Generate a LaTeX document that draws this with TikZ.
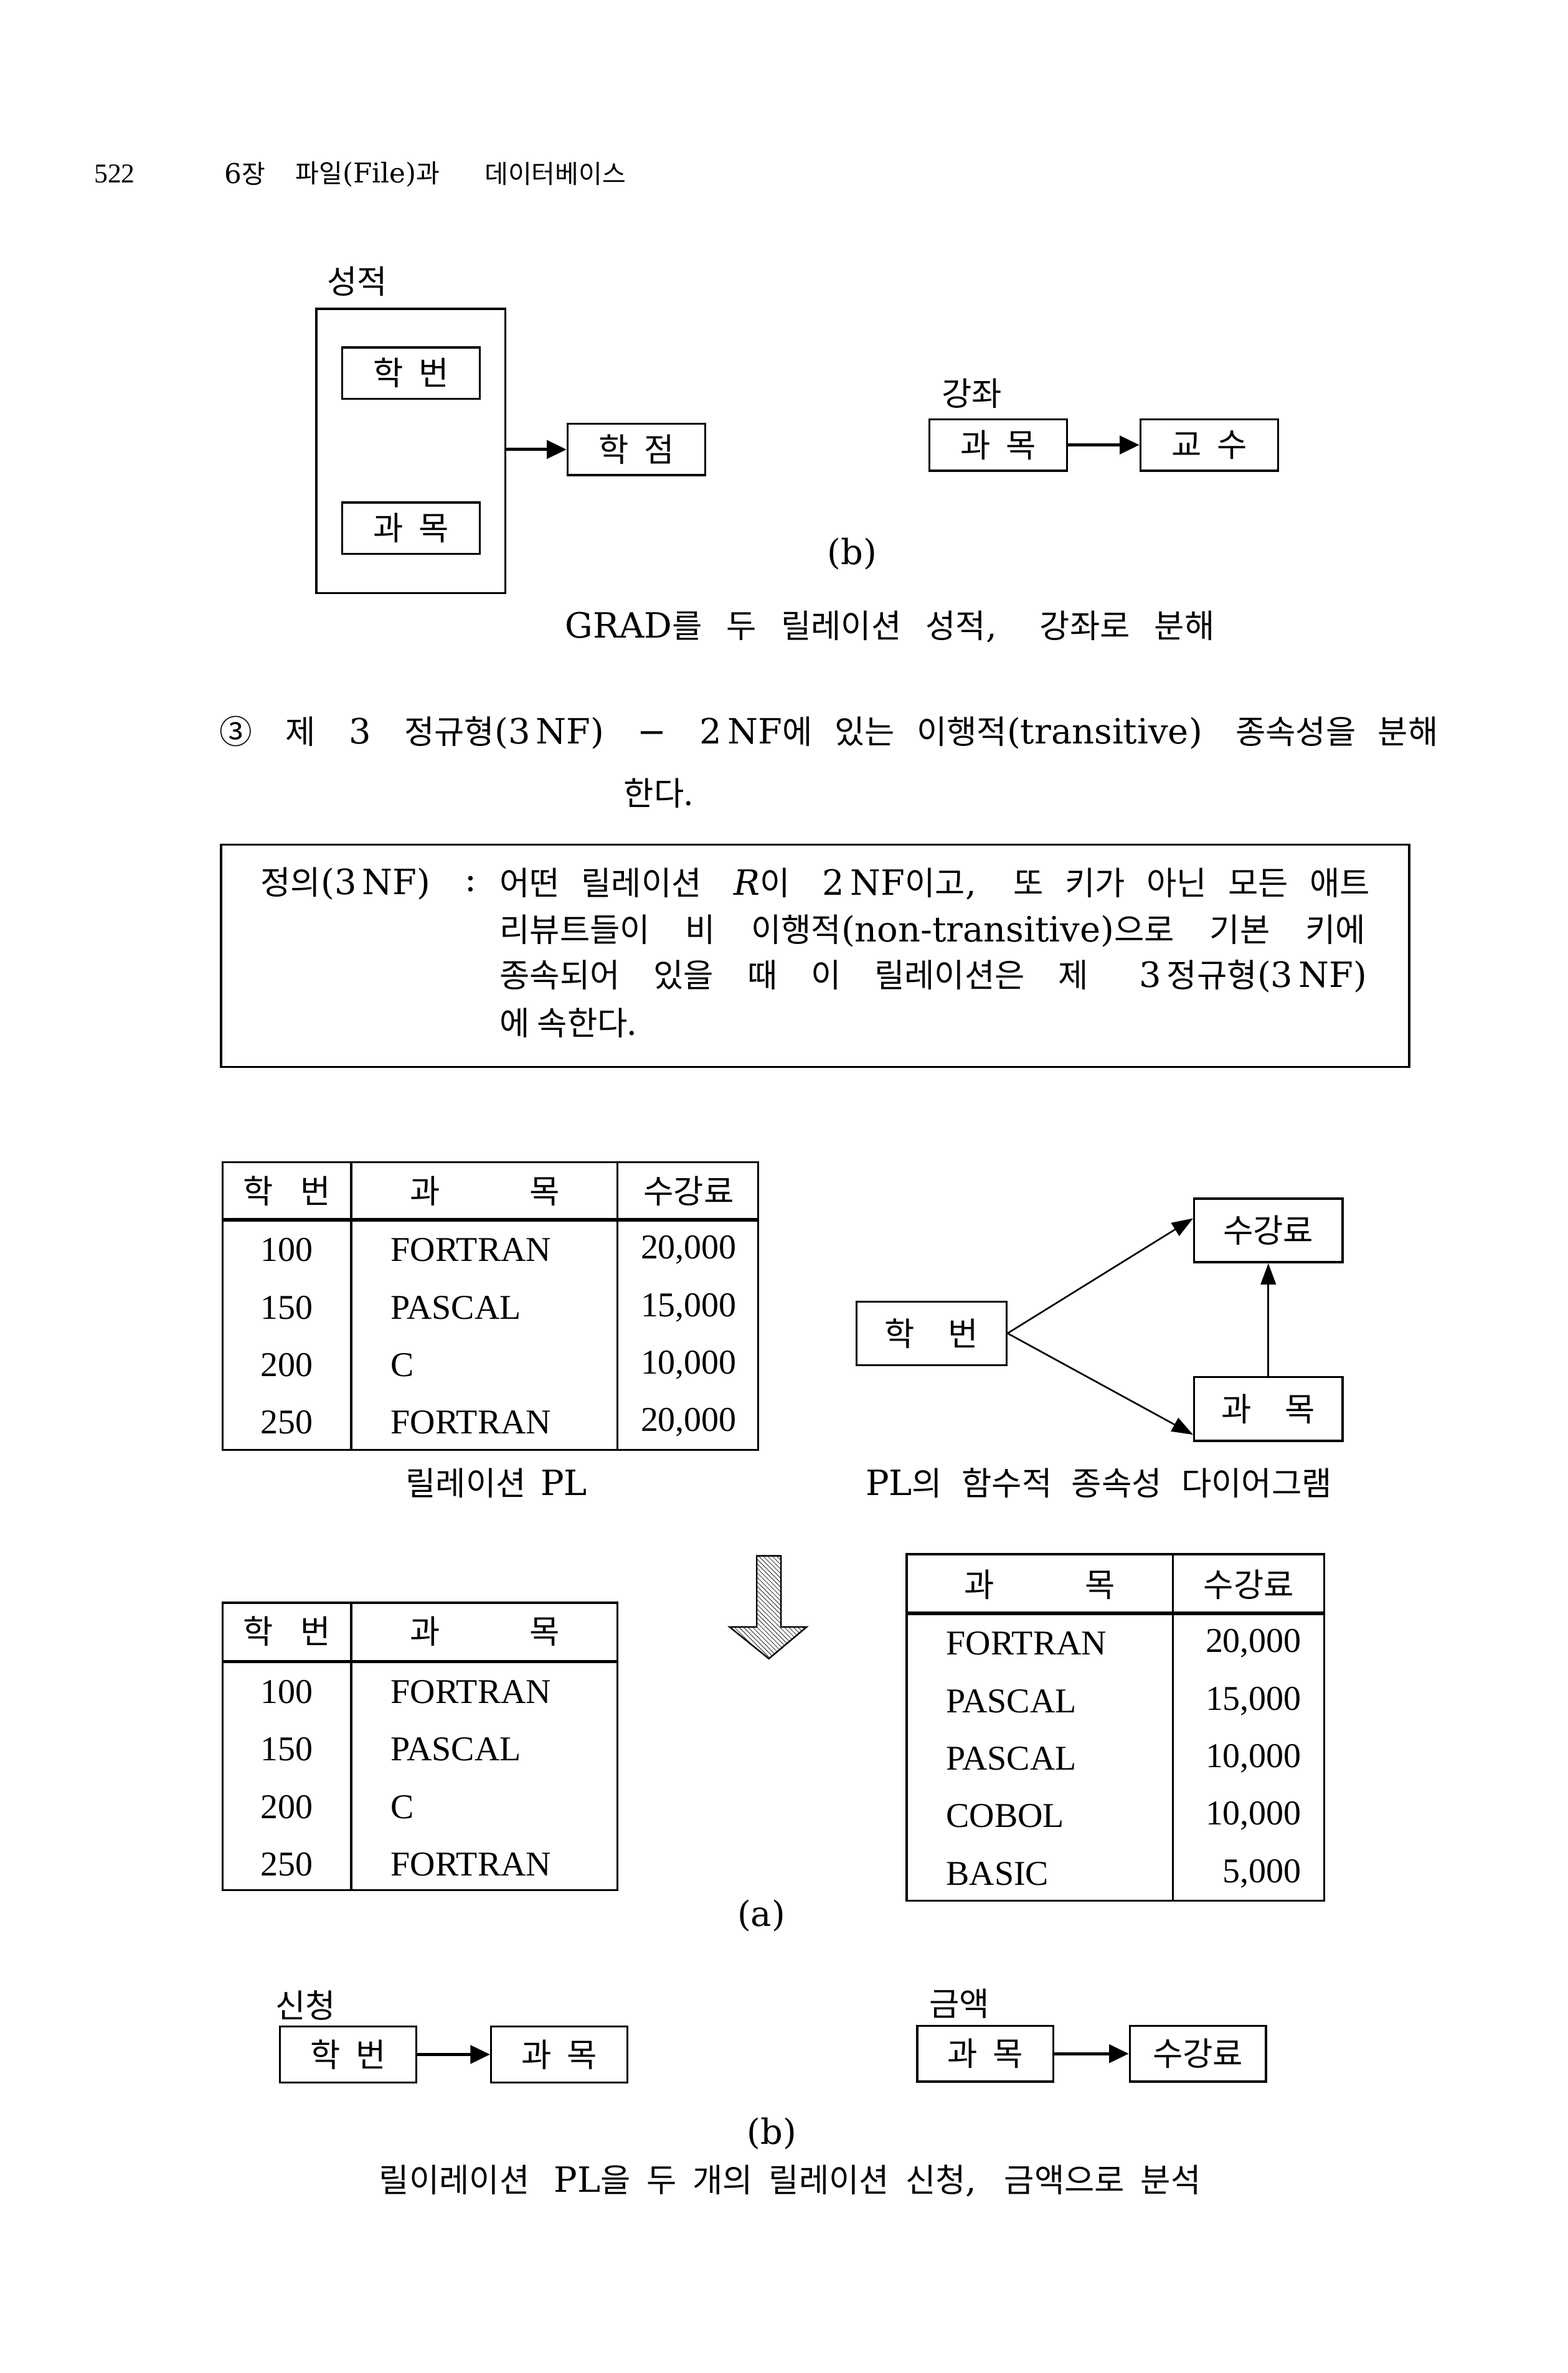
\documentclass[tikz,border=0pt]{standalone}
\usepackage{fontspec}
\setmainfont{DejaVu Serif}
\newfontfamily\tabfont{Liberation Serif}
\newfontfamily\krfont[Scale=0.94]{Noto Sans CJK KR}
\usetikzlibrary{arrows.meta,calc,positioning,patterns}
\newcommand\hgl[1]{{\krfont #1}}
\newcommand\spreadline[2]{\makebox[#1][s]{#2}}
\newcommand\bodysize{\fontsize{23}{28}\selectfont}
\tikzset{
  rel frame/.style   = {draw, line width=1.4pt},
  attr box/.style    = {draw, line width=1.4pt, minimum width=91pt,
                        minimum height=34pt},
  fd arrow/.style    = {-{Triangle[length=13pt,width=12pt]}, line width=2pt},
  dep arrow/.style   = {-{Triangle[length=14pt,width=10pt]}, line width=1.1pt},
  table frame/.style = {line width=1.4pt},
  header rule/.style = {line width=2.2pt},
  cell/.style        = {font=\tabfont\bodysize},
  head font/.style   = {font=\fontsize{18}{22}\selectfont},
}

\begin{document}
\begin{tikzpicture}[x=1pt, y=-1pt, inner sep=0pt, font=\bodysize]
  \useasboundingbox (0,0) rectangle (1036,1568);
  % page head
  \node[anchor=west, font=\tabfont\fontsize{18}{22}\selectfont] (pageno) at (62,115) {522};
  \node[head font, anchor=west] (chapno) at (148,115) {6\hgl{장}};
  \node[head font, anchor=west] (chapttl) at (195,115) {\hgl{파일}(File)\hgl{과}};
  \node[head font, anchor=west] (chapttl2) at (320,115) {\hgl{데이터베이스}};

  % GRAD split into two relations
  \node (sjname) at (236,186) {\hgl{성적}};
  \node[rel frame, minimum width=125pt, minimum height=188pt] (sj) at (271.5,298) {};
  \node[attr box] (sjhb) at (271.5,246.5) {\spreadline{50pt}{\hgl{학 번}}};
  \node[attr box] (sjkm) at (271.5,349) {\spreadline{50pt}{\hgl{과 목}}};
  \node[attr box] (sjhj) at (420.5,297) {\spreadline{50pt}{\hgl{학 점}}};
  \draw[fd arrow] (sj.east |- sjhj.west) -- (sjhj.west);
  \node (gjname) at (642,260) {\hgl{강좌}};
  \node[attr box] (gjkm) at (659.5,294) {\spreadline{50pt}{\hgl{과 목}}};
  \node[attr box] (gjgs) at (799,294) {\spreadline{50pt}{\hgl{교 수}}};
  \draw[fd arrow] (gjkm) -- (gjgs);
  \node (capb1) at (563,366) {(b)};
  \node (capgrad) at (588,414)
    {\spreadline{429pt}{GRAD\hgl{를 두 릴레이션 성적}, \hgl{강좌로 분해}}};

  % rule 3
  \node[anchor=west] (rule3) at (145,484)
    {\spreadline{805pt}{\hgl{③} \hgl{제} 3 \hgl{정규형}(3\,NF) − 2\,NF\hgl{에 있는 이행적}(transitive) \hgl{종속성을 분해}}};
  \node[anchor=west] (rule3b) at (412,524) {\hgl{한다.}};

  % definition box
  \node[rel frame, minimum width=785pt, minimum height=147pt] (defbox) at (538.5,631.5) {};
  \node[anchor=west] (deflabel) at (172,584) {\hgl{정의}(3\,NF)};
  \node (defcolon) at (311,584) {:};
  \node[anchor=west] (defl1) at (330,584)
    {\spreadline{575pt}{\hgl{어떤 릴레이션} \textit{R}\hgl{이} 2\,NF\hgl{이고}, \hgl{또 키가 아닌 모든 애트}}};
  \node[anchor=west] (defl2) at (330,615)
    {\spreadline{572pt}{\hgl{리뷰트들이 비 이행적}(non-transitive)\hgl{으로 기본 키에}}};
  \node[anchor=west] (defl3) at (330,645)
    {\spreadline{573pt}{\hgl{종속되어 있을 때 이 릴레이션은 제} 3\,\hgl{정규형}(3\,NF)}};
  \node[anchor=west] (defl4) at (330,676) {\hgl{에 속한다.}};

  % relation PL
  \draw[table frame] (147,768) rectangle (501,958);
  \draw[table frame] (232,768) -- (232,958) (408,768) -- (408,958);
  \draw[header rule] (147,806) -- (501,806);
  \node (plh1) at (189.5,787) {\spreadline{58pt}{\hgl{학 번}}};
  \node (plh2) at (320.5,787) {\spreadline{99pt}{\hgl{과 목}}};
  \node (plh3) at (455,787) {\hgl{수강료}};
  \foreach \y/\sid/\subj/\fee [count=\i] in
      {826/100/FORTRAN/{20,000}, 864/150/PASCAL/{15,000},
       902/200/C/{10,000}, 940/250/FORTRAN/{20,000}} {
    \node[cell] (pl-\i-a) at (189.5,\y) {\sid};
    \node[cell, anchor=west] (pl-\i-b) at (258,\y) {\subj};
    \node[cell] (pl-\i-c) at (455,\y) {\fee};
  }
  \node (plname) at (328,980) {\spreadline{120pt}{\hgl{릴레이션} PL}};

  % dependency diagram of PL
  \node[attr box, minimum width=99pt, minimum height=42pt] (dhb) at (615.5,881)
    {\spreadline{62pt}{\hgl{학 번}}};
  \node[attr box, minimum width=98pt, minimum height=42pt] (dfee) at (838,813)
    {\hgl{수강료}};
  \node[attr box, minimum width=98pt, minimum height=42pt] (dkm) at (838,931)
    {\spreadline{62pt}{\hgl{과 목}}};
  \draw[dep arrow] (dhb.east) -- ([yshift=8pt]dfee.west);
  \draw[dep arrow] (dhb.east) -- ([yshift=-17pt]dkm.west);
  \draw[dep arrow] (dkm.north) -- (dfee.south);
  \node (fdname) at (726,980)
    {\spreadline{308pt}{PL\hgl{의 함수적 종속성 다이어그램}}};

  % decomposition arrow
  \draw[line width=1pt, pattern=north west lines, pattern color=black!75]
    (500,1028) -- (516,1028) -- (516,1075) -- (533,1075) -- (508,1096)
    -- (482,1075) -- (500,1075) -- cycle;

  % relation (a) left
  \draw[table frame] (147,1059) rectangle (408,1249);
  \draw[table frame] (232,1059) -- (232,1249);
  \draw[header rule] (147,1098) -- (408,1098);
  \node (sqh1) at (189.5,1078) {\spreadline{58pt}{\hgl{학 번}}};
  \node (sqh2) at (320.5,1078) {\spreadline{99pt}{\hgl{과 목}}};
  \foreach \y/\sid/\subj [count=\i] in
      {1118/100/FORTRAN, 1156/150/PASCAL, 1194/200/C, 1232/250/FORTRAN} {
    \node[cell] (sq-\i-a) at (189.5,\y) {\sid};
    \node[cell, anchor=west] (sq-\i-b) at (258,\y) {\subj};
  }

  % relation (a) right
  \draw[table frame] (599,1027) rectangle (875,1256);
  \draw[table frame] (775,1027) -- (775,1256);
  \draw[header rule] (599,1066) -- (875,1066);
  \node (gah1) at (687,1047) {\spreadline{100pt}{\hgl{과 목}}};
  \node (gah2) at (825,1047) {\hgl{수강료}};
  \foreach \y/\subj/\fee [count=\i] in
      {1086/FORTRAN/{20,000}, 1124/PASCAL/{15,000}, 1162/PASCAL/{10,000},
       1200/COBOL/{10,000}, 1238/BASIC/{5,000}} {
    \node[cell, anchor=west] (ga-\i-a) at (625,\y) {\subj};
    \node[cell, anchor=east] (ga-\i-b) at (860,\y) {\fee};
  }
  \node (capa) at (503,1266) {(a)};

  % PL split into two relations
  \node (scname) at (202,1325) {\hgl{신청}};
  \node[attr box, minimum width=90pt, minimum height=37pt] (schb) at (230,1357.5)
    {\spreadline{50pt}{\hgl{학 번}}};
  \node[attr box, minimum width=90pt, minimum height=37pt] (sckm) at (369.5,1357.5)
    {\spreadline{50pt}{\hgl{과 목}}};
  \draw[fd arrow] (schb) -- (sckm);
  \node (gmname) at (634,1324) {\hgl{금액}};
  \node[attr box, minimum width=90pt, minimum height=37pt] (gmkm) at (651,1357)
    {\spreadline{50pt}{\hgl{과 목}}};
  \node[attr box, minimum width=90pt, minimum height=37pt] (gmfee) at (791.5,1357)
    {\hgl{수강료}};
  \draw[fd arrow] (gmkm) -- (gmfee);
  \node (capb2) at (510,1410) {(b)};
  \node (cappl) at (522,1441)
    {\spreadline{543pt}{\hgl{릴이레이션} PL\hgl{을 두 개의 릴레이션 신청}, \hgl{금액으로 분석}}};
\end{tikzpicture}
\end{document}
